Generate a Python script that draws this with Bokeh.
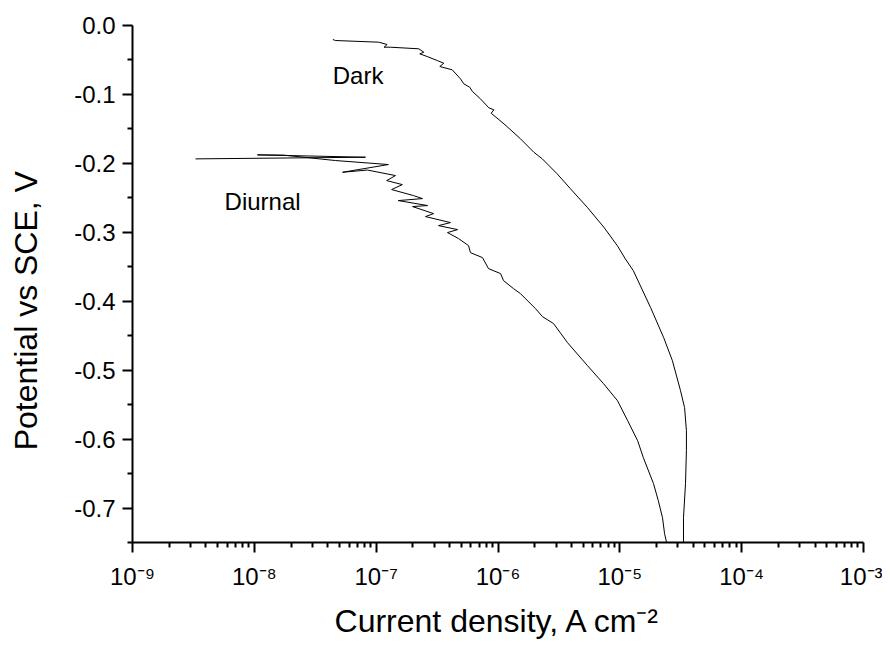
from bokeh.plotting import figure
from bokeh.models import FixedTicker, ColumnDataSource
from bokeh.embed import file_html
from bokeh.resources import INLINE
from bokeh.core.properties import value

# ---- data (current density in A cm^-2, potential in V vs SCE) ----
dark_current = [4.41e-8, 4.63e-8, 1.05e-7, 1.23e-7, 1.16e-7, 1.31e-7, 2.24e-7, 2.46e-7,
                2.28e-7, 2.62e-7, 3.17e-7, 3.59e-7, 3.33e-7, 4.21e-7, 4.92e-7, 5.24e-7,
                5.87e-7, 6.14e-7, 7.18e-7, 8.41e-7, 9.25e-7, 8.79e-7, 1.12e-6, 1.53e-6,
                1.97e-6, 2.31e-6, 3.06e-6, 3.94e-6, 5.40e-6, 7.40e-6, 9.53e-6, 1.11e-5,
                1.29e-5, 1.79e-5, 2.29e-5, 2.70e-5, 3.15e-5, 3.40e-5, 3.52e-5, 3.52e-5,
                3.46e-5, 3.33e-5, 3.33e-5]
dark_potential = [-0.0203, -0.0218, -0.0242, -0.0276, -0.0315, -0.0315, -0.0338, -0.0388,
                  -0.0411, -0.0450, -0.0508, -0.0547, -0.0595, -0.0643, -0.0774, -0.0846,
                  -0.0896, -0.0954, -0.1064, -0.1194, -0.1223, -0.1273, -0.1427, -0.1644,
                  -0.1839, -0.1935, -0.2152, -0.2370, -0.2637, -0.2927, -0.3193, -0.3386,
                  -0.3556, -0.4093, -0.4528, -0.4862, -0.5298, -0.5544, -0.5878, -0.6168,
                  -0.6647, -0.7141, -0.7500]

diurnal_current = [3.29e-9, 8.18e-8, 1.06e-8, 1.73e-8, 4.63e-8, 1.26e-7, 5.30e-8, 8.49e-8,
                   1.44e-7, 1.22e-7, 1.64e-7, 1.34e-7, 2.02e-7, 2.40e-7, 1.52e-7, 2.64e-7,
                   1.99e-7, 2.96e-7, 2.54e-7, 4.07e-7, 3.25e-7, 4.66e-7, 3.85e-7, 4.74e-7,
                   5.73e-7, 5.94e-7, 7.46e-7, 8.36e-7, 1.05e-6, 1.11e-6, 1.34e-6, 1.53e-6,
                   2.03e-6, 2.32e-6, 2.86e-6, 3.72e-6, 5.43e-6, 7.35e-6, 9.57e-6, 1.16e-5,
                   1.40e-5, 1.56e-5, 1.89e-5, 2.07e-5, 2.24e-5, 2.33e-5, 2.42e-5]
diurnal_potential = [-0.1935, -0.1911, -0.1877, -0.1880, -0.1959, -0.2017, -0.2129, -0.2097,
                     -0.2177, -0.2250, -0.2308, -0.2380, -0.2467, -0.2511, -0.2540, -0.2612,
                     -0.2627, -0.2729, -0.2772, -0.2859, -0.2903, -0.2961, -0.3004, -0.3091,
                     -0.3193, -0.3295, -0.3367, -0.3527, -0.3599, -0.3701, -0.3817, -0.3890,
                     -0.4107, -0.4224, -0.4325, -0.4601, -0.4935, -0.5196, -0.5443, -0.5733,
                     -0.6023, -0.6270, -0.6647, -0.6894, -0.7141, -0.7373, -0.7500]

x_ticks = [1e-9, 1e-8, 1e-7, 1e-6, 1e-5, 1e-4, 1e-3]
x_tick_labels = ["10\u207b\u2079", "10\u207b\u2078", "10\u207b\u2077", "10\u207b\u2076",
                 "10\u207b\u2075", "10\u207b\u2074", "10\u207b\u00b3"]
y_ticks = [0.0, -0.1, -0.2, -0.3, -0.4, -0.5, -0.6, -0.7]
y_tick_labels = ["0.0", "-0.1", "-0.2", "-0.3", "-0.4", "-0.5", "-0.6", "-0.7"]
y_minor_ticks = [-0.05, -0.15, -0.25, -0.35, -0.45, -0.55, -0.65, -0.75]

label_texts = ["Dark", "Diurnal"]
label_x = [4.4e-8, 5.7e-9]
label_y = [-0.073, -0.256]

x_label = "Current density, A cm\u207b\u00b2"
y_label = "Potential vs SCE, V" + "\u00a0" * 6

FONT = "Liberation Sans"

p = figure(
    x_axis_type="log",
    x_range=(1e-9, 1e-3),
    y_range=(-0.75, 0.0),
    frame_width=731, frame_height=517,
    min_border_left=132, min_border_right=19,
    min_border_top=25, min_border_bottom=104,
    output_backend="svg", toolbar_location=None,
    background_fill_color="white", border_fill_color="white",
)
p.outline_line_color = None
p.grid.visible = False

p.line(dark_current, dark_potential, line_color="black", line_width=1)
p.line(diurnal_current, diurnal_potential, line_color="black", line_width=1)

src = ColumnDataSource(dict(x=label_x, y=label_y, t=label_texts))
p.text(x="x", y="y", text="t", source=src, text_font=value(FONT),
       text_font_size="24px", text_color="black",
       text_align="left", text_baseline="alphabetic")

x_minor = [m * t for t in x_ticks[:-1] for m in range(2, 10)]
p.xaxis.ticker = FixedTicker(ticks=x_ticks, minor_ticks=x_minor)
p.xaxis.major_label_overrides = dict(zip(x_ticks, x_tick_labels))
p.yaxis.ticker = FixedTicker(ticks=y_ticks, minor_ticks=y_minor_ticks)
p.yaxis.major_label_overrides = dict(zip(y_ticks, y_tick_labels))

for ax in (p.xaxis[0], p.yaxis[0]):
    ax.axis_line_width = 2
    ax.axis_line_color = "black"
    ax.major_tick_line_width = 2
    ax.minor_tick_line_width = 2
    ax.major_tick_line_color = "black"
    ax.minor_tick_line_color = "black"
    ax.major_tick_in = 0
    ax.major_tick_out = 10
    ax.minor_tick_in = 0
    ax.minor_tick_out = 5
    ax.major_label_text_font = FONT
    ax.major_label_text_font_size = "24px"
    ax.major_label_text_color = "black"
    ax.axis_label_text_font = FONT
    ax.axis_label_text_font_size = "32px"
    ax.axis_label_text_font_style = "normal"
    ax.axis_label_text_color = "black"

p.xaxis.axis_label = x_label
p.yaxis.axis_label = y_label
p.yaxis.major_label_standoff = 7
p.xaxis.major_label_standoff = 10
p.yaxis.axis_label_standoff = 27
p.xaxis.axis_label_standoff = 10

open("out.html", "w").write(file_html(p, INLINE))
